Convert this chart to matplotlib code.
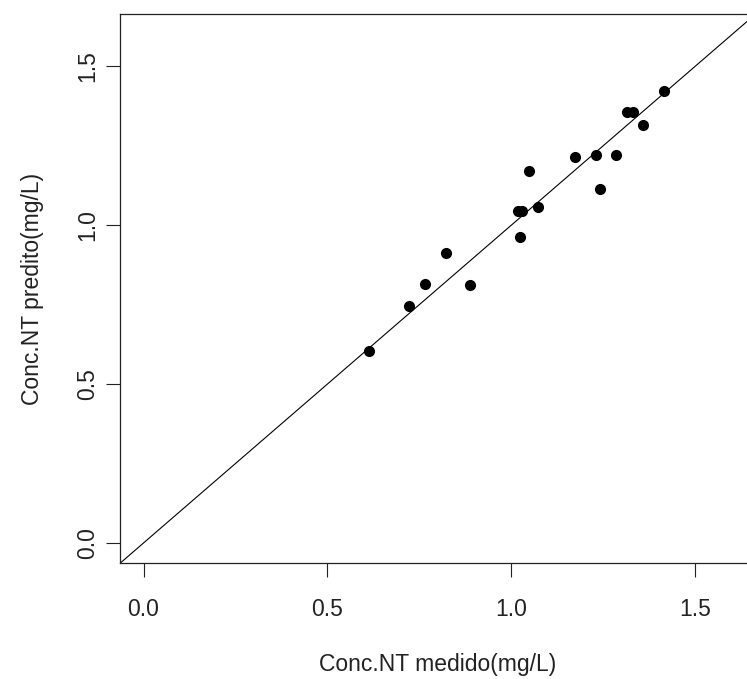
import matplotlib
matplotlib.use("Agg")
import matplotlib.pyplot as plt

# Measured vs. predicted total nitrogen concentration (mg/L)
medido = [0.612, 0.722, 0.764, 0.821, 0.888, 1.023, 1.019, 1.030, 1.048,
          1.071, 1.174, 1.230, 1.241, 1.285, 1.315, 1.330, 1.359, 1.416]
predito = [0.603, 0.744, 0.814, 0.912, 0.810, 0.961, 1.043, 1.043, 1.169,
           1.058, 1.215, 1.219, 1.114, 1.219, 1.355, 1.355, 1.315, 1.422]

ticks = [0.0, 0.5, 1.0, 1.5]
tick_labels = ["0.0", "0.5", "1.0", "1.5"]
lim = (0.0, 1.6)

plt.rcParams["font.family"] = ["Liberation Sans", "DejaVu Sans"]

W, H = 747, 679
fig = plt.figure(figsize=(W / 100, H / 100), dpi=100)
left, right, top, bottom = 120, 755.7, 14, 563.3
ax = fig.add_axes([left / W, 1 - bottom / H, (right - left) / W, (bottom - top) / H])

# R-style 4% padding around the data range
span = lim[1] - lim[0]
ax.set_xlim(lim[0] - 0.04 * span, lim[1] + 0.04 * span)
ax.set_ylim(lim[0] - 0.04 * span, lim[1] + 0.04 * span)

ax.axline((0, 0), slope=1, color="black", lw=0.8)
ax.plot(medido, predito, "o", color="black", markersize=7, linestyle="none")

for s in ax.spines.values():
    s.set_linewidth(0.9)
    s.set_color("#222222")

ax.set_xticks(ticks)
ax.set_xticklabels(tick_labels)
ax.set_yticks(ticks)
ax.set_yticklabels(tick_labels, rotation=90, va="center")
ax.tick_params(axis="both", direction="out", length=10, width=0.8,
               labelsize=16.5, colors="#222222")
ax.tick_params(axis="x", pad=15)
ax.tick_params(axis="y", pad=5)

ax.set_xlabel("Conc.NT medido(mg/L)", fontsize=16.5, color="#222222", labelpad=23)
ax.set_ylabel("Conc.NT predito(mg/L)", fontsize=16.5, color="#222222", labelpad=23)

fig.savefig("out.png", dpi=100)
